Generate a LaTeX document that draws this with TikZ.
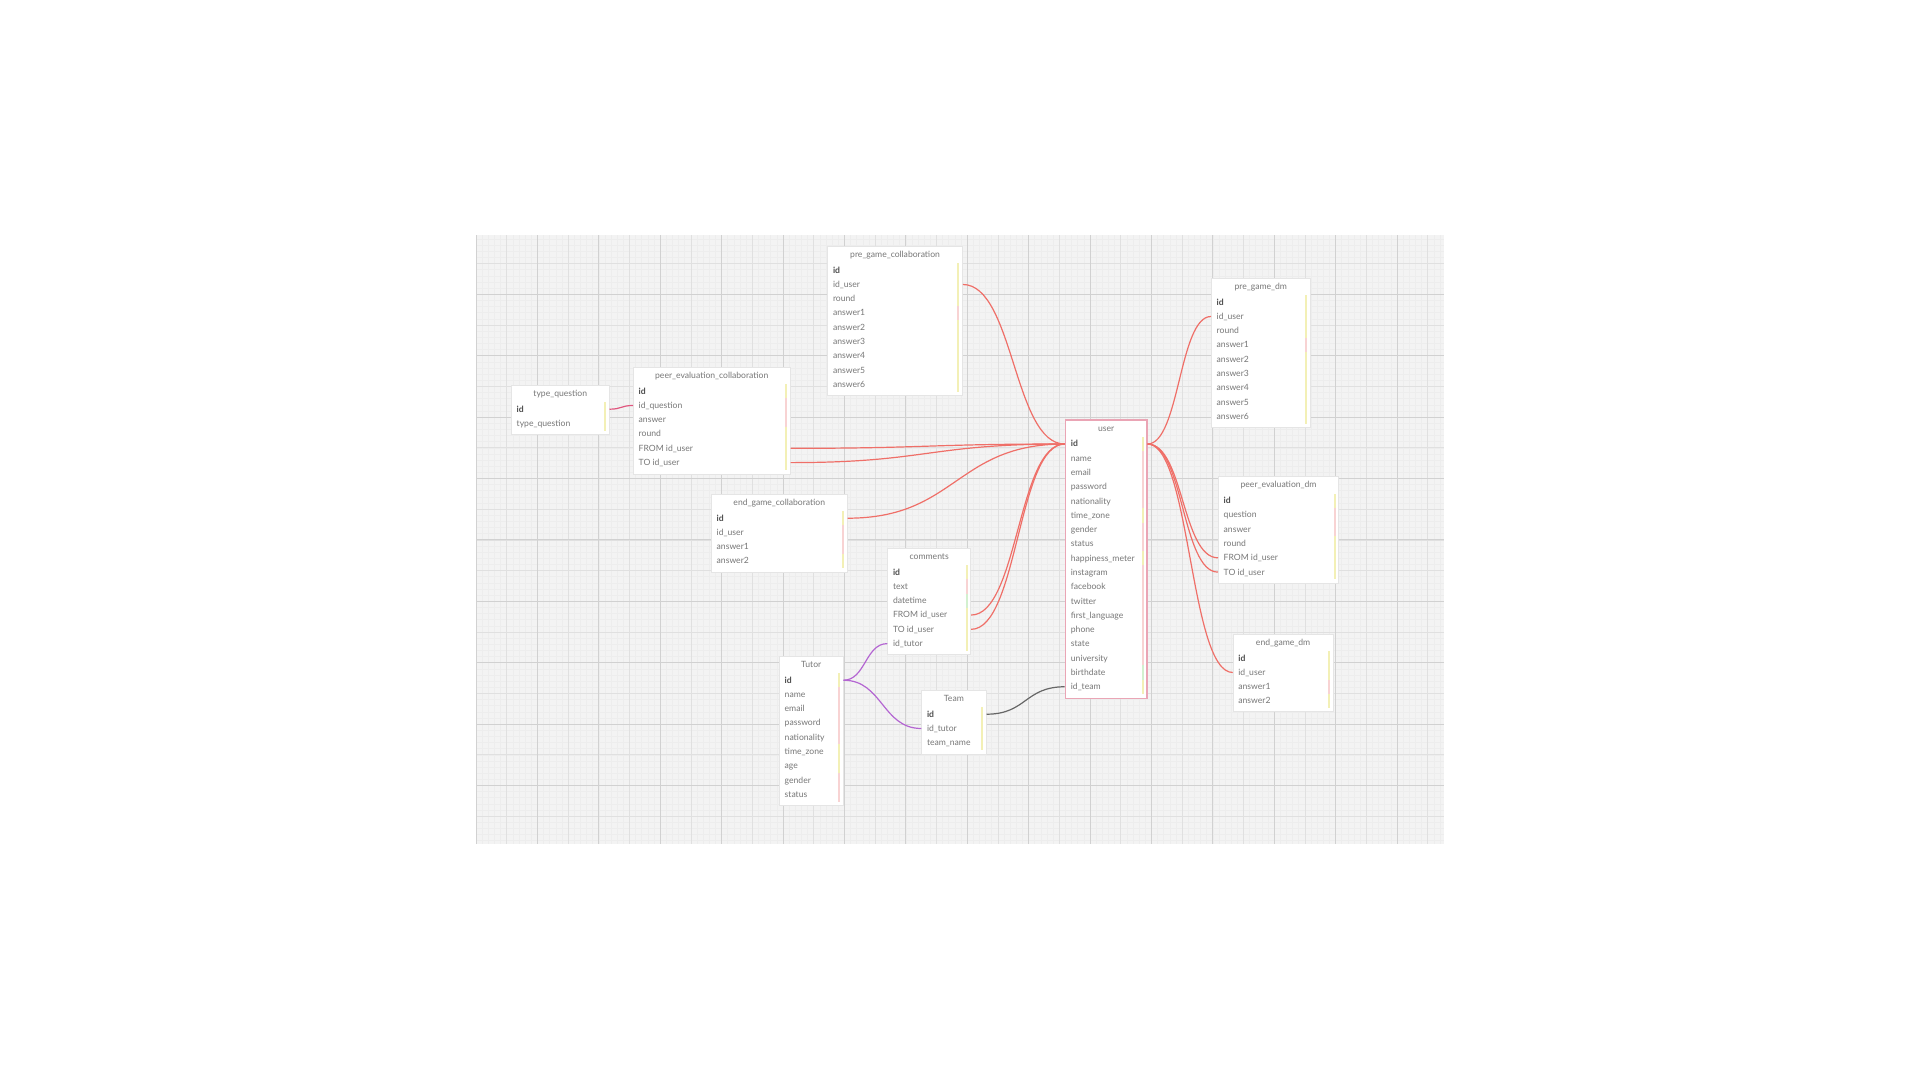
\documentclass[tikz,border=0pt]{standalone}
\usepackage{fontspec}
\setmainfont{Lato}
\usetikzlibrary{calc,positioning}
\definecolor{linkred}{HTML}{EF6F68}
\definecolor{linkpink}{HTML}{E0567E}
\definecolor{linkpurple}{HTML}{B466D2}
\definecolor{linkgray}{HTML}{666666}
\definecolor{userpink}{HTML}{EAA5B5}
\definecolor{tY}{HTML}{F3F0B6}
\definecolor{tP}{HTML}{F8D3D3}
\definecolor{tG}{HTML}{D3F0CF}
\definecolor{txt}{HTML}{777777}
\definecolor{gridbg}{HTML}{F3F3F3}
\tikzstyle{gridminor}=[draw=black!7,line width=0.6pt]
\tikzstyle{gridmid}=[draw=black!12,line width=0.8pt]
\tikzstyle{gridmajor}=[draw=black!18,line width=1pt]
\tikzstyle{table}=[draw=black!10,fill=white,anchor=north west,inner sep=0pt,line width=0.8pt]
\tikzstyle{title}=[anchor=center,text=txt,inner sep=0pt,text height=1.6ex,text depth=0.45ex]
\tikzstyle{field}=[anchor=west,text=txt,inner sep=0pt,text height=1.6ex,text depth=0.45ex]
\tikzstyle{rel}=[draw=linkred,line width=1.2pt]
\newcommand{\pkey}{{\color{black!70}\bfseries id}}

\begin{document}
\begin{tikzpicture}[x=1pt,y=-1pt]
\tikzstyle{every node}=[font=\fontsize{8.6}{10}\selectfont]
\useasboundingbox[fill=white] (0,0) rectangle (1920,1080);
% grid
\begin{scope}
\clip (476,235) rectangle (1444,844);
\fill[gridbg] (476,235) rectangle (1444,844);
\foreach \i in {0,...,158} \draw[gridminor] ({476+\i*6.14},235) -- ({476+\i*6.14},844);
\foreach \i in {-10,...,90} \draw[gridminor] (476,{294.3+\i*6.14}) -- (1444,{294.3+\i*6.14});
\foreach \i in {0,...,32} \draw[gridmid] ({476+\i*30.7},235) -- ({476+\i*30.7},844);
\foreach \i in {-2,...,18} \draw[gridmid] (476,{294.3+\i*30.7}) -- (1444,{294.3+\i*30.7});
\foreach \i in {0,...,16} \draw[gridmajor] ({476+\i*61.4},235) -- ({476+\i*61.4},844);
\foreach \i in {-1,...,9} \draw[gridmajor] (476,{294.3+\i*61.4}) -- (1444,{294.3+\i*61.4});
\end{scope}

% type_question
\node[table,minimum width=97.7,minimum height=49] (tq) at (511,385) {};
\node[title] (tq-t) at ($(tq.north)+(0,8.5)$) {type\_question};
\foreach \f/\c [count=\i] in {\pkey/tY,type\_question/tY}{
  \node[field] (tq-\i) at ($(tq.north west)+(5.5,{24.2+(\i-1)*14.28})$) {\f};
  \fill[\c] ($(tq.north east)+(-5.5,{17.06+(\i-1)*14.28})$) rectangle ++(2,14.28);
}

% peer_evaluation_collaboration
\node[table,minimum width=156.7,minimum height=107] (pec) at (633,367) {};
\node[title] (pec-t) at ($(pec.north)+(0,8.5)$) {peer\_evaluation\_collaboration};
\foreach \f/\c [count=\i] in {\pkey/tY,id\_question/tP,answer/tP,round/tY,FROM id\_user/tY,TO id\_user/tY}{
  \node[field] (pec-\i) at ($(pec.north west)+(5.5,{24.2+(\i-1)*14.28})$) {\f};
  \fill[\c] ($(pec.north east)+(-5.5,{17.06+(\i-1)*14.28})$) rectangle ++(2,14.28);
}

% pre_game_collaboration
\node[table,minimum width=134.7,minimum height=148.7] (pgc) at (827.3,246) {};
\node[title] (pgc-t) at ($(pgc.north)+(0,8.5)$) {pre\_game\_collaboration};
\foreach \f/\c [count=\i] in {\pkey/tY,id\_user/tY,round/tY,answer1/tP,answer2/tY,answer3/tY,answer4/tY,answer5/tY,answer6/tY}{
  \node[field] (pgc-\i) at ($(pgc.north west)+(5.5,{24.2+(\i-1)*14.28})$) {\f};
  \fill[\c] ($(pgc.north east)+(-5.5,{17.06+(\i-1)*14.28})$) rectangle ++(2,14.28);
}

% end_game_collaboration
\node[table,minimum width=135.7,minimum height=77.7] (egc) at (711,494) {};
\node[title] (egc-t) at ($(egc.north)+(0,8.5)$) {end\_game\_collaboration};
\foreach \f/\c [count=\i] in {\pkey/tY,id\_user/tP,answer1/tP,answer2/tY}{
  \node[field] (egc-\i) at ($(egc.north west)+(5.5,{24.2+(\i-1)*14.28})$) {\f};
  \fill[\c] ($(egc.north east)+(-5.5,{17.06+(\i-1)*14.28})$) rectangle ++(2,14.28);
}

% comments
\node[table,minimum width=83,minimum height=106] (com) at (887.3,548) {};
\node[title] (com-t) at ($(com.north)+(0,8.5)$) {comments};
\foreach \f/\c [count=\i] in {\pkey/tY,text/tP,datetime/tG,FROM id\_user/tY,TO id\_user/tY,id\_tutor/tY}{
  \node[field] (com-\i) at ($(com.north west)+(5.5,{24.2+(\i-1)*14.28})$) {\f};
  \fill[\c] ($(com.north east)+(-5.5,{17.06+(\i-1)*14.28})$) rectangle ++(2,14.28);
}

% Tutor
\node[table,minimum width=63.7,minimum height=149] (tut) at (779,656) {};
\node[title] (tut-t) at ($(tut.north)+(0,8.5)$) {Tutor};
\foreach \f/\c [count=\i] in {\pkey/tY,name/tP,email/tP,password/tP,nationality/tP,time\_zone/tY,age/tY,gender/tP,status/tP}{
  \node[field] (tut-\i) at ($(tut.north west)+(5.5,{24.2+(\i-1)*14.28})$) {\f};
  \fill[\c] ($(tut.north east)+(-5.5,{17.06+(\i-1)*14.28})$) rectangle ++(2,14.28);
}

% Team
\node[table,minimum width=64.4,minimum height=64] (team) at (921.3,690) {};
\node[title] (team-t) at ($(team.north)+(0,8.5)$) {Team};
\foreach \f/\c [count=\i] in {\pkey/tY,id\_tutor/tY,team\_name/tY}{
  \node[field] (team-\i) at ($(team.north west)+(5.5,{24.2+(\i-1)*14.28})$) {\f};
  \fill[\c] ($(team.north east)+(-5.5,{17.06+(\i-1)*14.28})$) rectangle ++(2,14.28);
}

% user
\node[table,draw=userpink,line width=1.5pt,minimum width=81.3,minimum height=278.4] (user) at (1064.7,419.3) {};
\node[title] (user-t) at ($(user.north)+(0,9)$) {user};
\foreach \f/\c [count=\i] in {\pkey/tY,name/tP,email/tP,password/tP,nationality/tP,time\_zone/tY,gender/tP,status/tP,happiness\_meter/tY,instagram/tP,facebook/tP,twitter/tP,first\_language/tP,phone/tP,state/tP,university/tP,birthdate/tG,id\_team/tY}{
  \node[field] (user-\i) at ($(user.north west)+(6,{24.7+(\i-1)*14.28})$) {\f};
  \fill[\c] ($(user.north east)+(-5.5,{17.56+(\i-1)*14.28})$) rectangle ++(2,14.28);
}

% pre_game_dm
\node[table,minimum width=98.7,minimum height=149] (pgd) at (1211,277.7) {};
\node[title] (pgd-t) at ($(pgd.north)+(0,8.8)$) {pre\_game\_dm};
\foreach \f/\c [count=\i] in {\pkey/tY,id\_user/tY,round/tY,answer1/tP,answer2/tY,answer3/tY,answer4/tY,answer5/tY,answer6/tY}{
  \node[field] (pgd-\i) at ($(pgd.north west)+(5.5,{24.5+(\i-1)*14.28})$) {\f};
  \fill[\c] ($(pgd.north east)+(-5.5,{17.36+(\i-1)*14.28})$) rectangle ++(2,14.28);
}

% peer_evaluation_dm
\node[table,minimum width=120.3,minimum height=106.4] (ped) at (1218,476.3) {};
\node[title] (ped-t) at ($(ped.north)+(0,8.6)$) {peer\_evaluation\_dm};
\foreach \f/\c [count=\i] in {\pkey/tY,question/tP,answer/tP,round/tY,FROM id\_user/tY,TO id\_user/tY}{
  \node[field] (ped-\i) at ($(ped.north west)+(5.5,{24.4+(\i-1)*14.28})$) {\f};
  \fill[\c] ($(ped.north east)+(-5.5,{17.26+(\i-1)*14.28})$) rectangle ++(2,14.28);
}

% end_game_dm
\node[table,minimum width=100,minimum height=76.7] (egd) at (1232.7,634) {};
\node[title] (egd-t) at ($(egd.north)+(0,8.5)$) {end\_game\_dm};
\foreach \f/\c [count=\i] in {\pkey/tY,id\_user/tY,answer1/tP,answer2/tY}{
  \node[field] (egd-\i) at ($(egd.north west)+(5.5,{24.2+(\i-1)*14.28})$) {\f};
  \fill[\c] ($(egd.north east)+(-5.5,{17.06+(\i-1)*14.28})$) rectangle ++(2,14.28);
}

% relations
\draw[rel,draw=linkpink] (tq-1 -| tq.east) .. controls +(12,0) and +(-12,0) .. (pec-2 -| pec.west);
\draw[rel] (pgc-2 -| pgc.east) .. controls +(51,0) and +(-51,0) .. (user-1 -| user.west);
\draw[rel] (pec-5 -| pec.east) .. controls +(137,0) and +(-137,0) .. (user-1 -| user.west);
\draw[rel] (pec-6 -| pec.east) .. controls +(137,0) and +(-137,0) .. (user-1 -| user.west);
\draw[rel] (egc-1 -| egc.east) .. controls +(109,0) and +(-109,0) .. (user-1 -| user.west);
\draw[rel] (com-4 -| com.east) .. controls +(47,0) and +(-47,0) .. (user-1 -| user.west);
\draw[rel] (com-5 -| com.east) .. controls +(47,0) and +(-47,0) .. (user-1 -| user.west);
\draw[rel] (user-1 -| user.east) .. controls +(32,0) and +(-32,0) .. (pgd-2 -| pgd.west);
\draw[rel] (user-1 -| user.east) .. controls +(36,0) and +(-36,0) .. (ped-5 -| ped.west);
\draw[rel] (user-1 -| user.east) .. controls +(36,0) and +(-36,0) .. (ped-6 -| ped.west);
\draw[rel] (user-1 -| user.east) .. controls +(43,0) and +(-43,0) .. (egd-2 -| egd.west);
\draw[rel,draw=linkpurple] (tut-1 -| tut.east) .. controls +(22,0) and +(-22,0) .. (com-6 -| com.west);
\draw[rel,draw=linkpurple] (tut-1 -| tut.east) .. controls +(39,0) and +(-39,0) .. (team-2 -| team.west);
\draw[rel,draw=linkgray] (team-1 -| team.east) .. controls +(40,0) and +(-40,0) .. (user-18 -| user.west);
\end{tikzpicture}
\end{document}
